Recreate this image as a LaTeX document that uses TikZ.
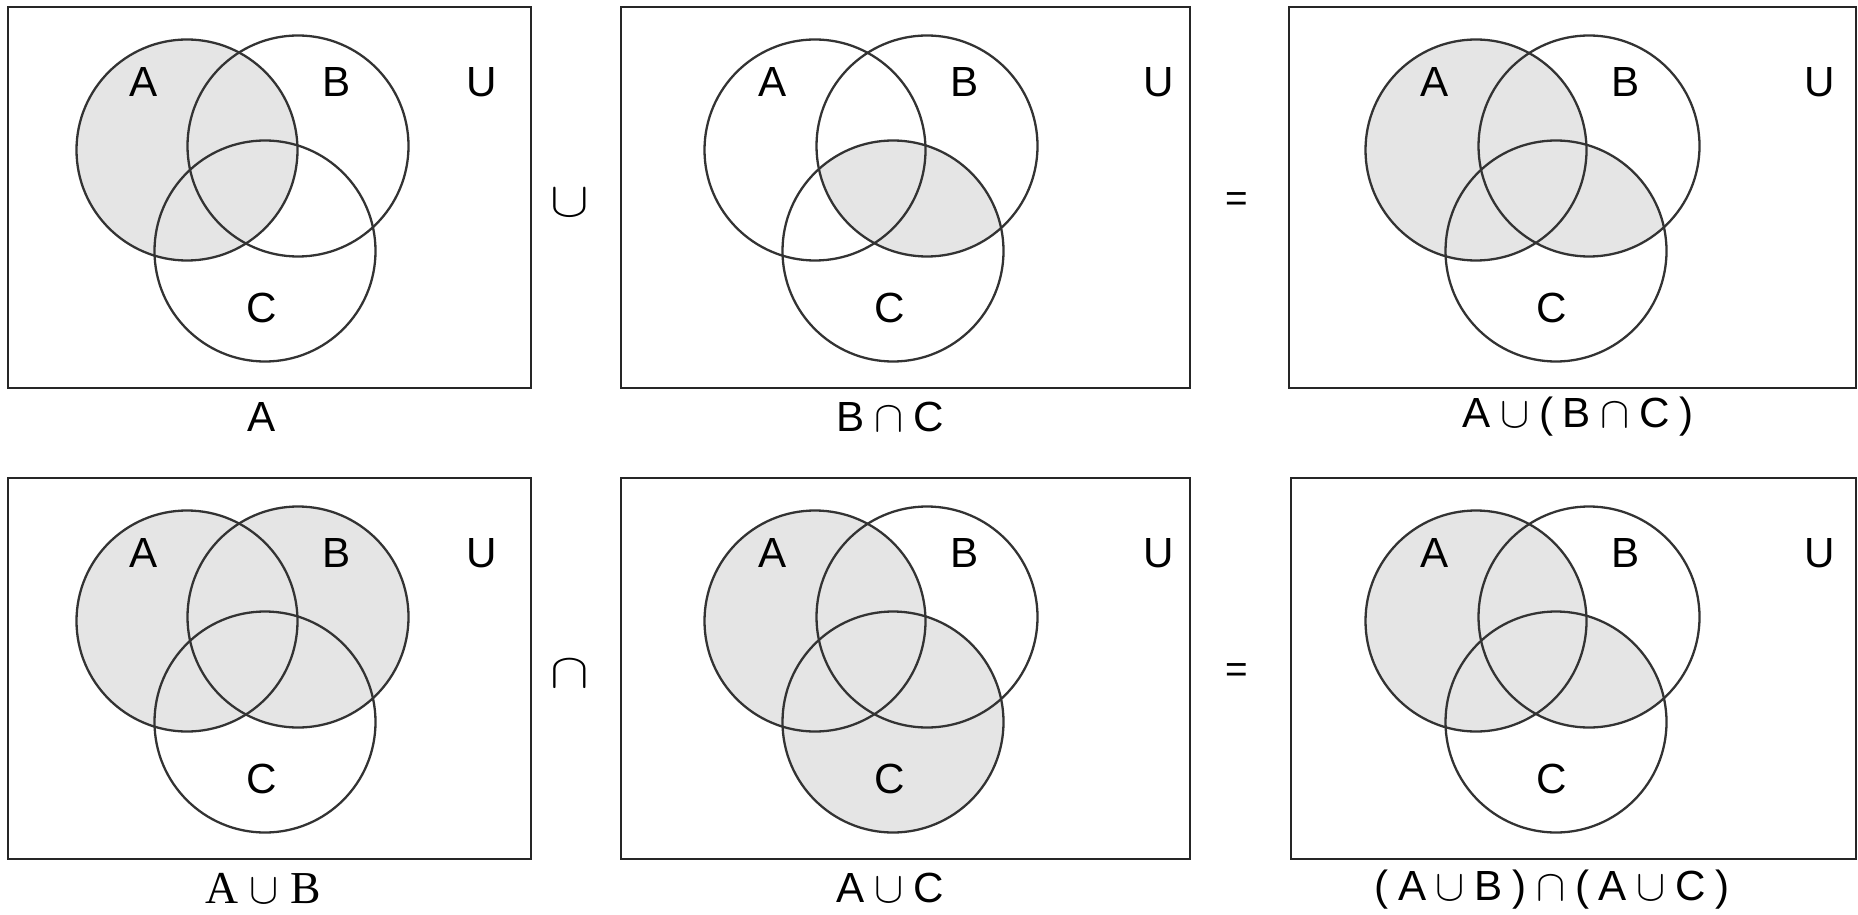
\documentclass[tikz,border=0pt]{standalone}
\usepackage{graphicx}
\usepackage{fontspec}
\setmainfont{Liberation Sans}
\newfontfamily\capserif{Liberation Serif}
\newcommand{\cgap}{\hspace{5.5pt}}
\begin{document}
\begin{tikzpicture}[x=0.02cm, y=-0.02cm, every node/.style={font=\fontsize{24}{28}\selectfont, inner sep=0pt}, box/.style={draw=black!85, line width=1.6pt}, set/.style={draw=black!80, line width=1.3pt}, grayset/.style={fill=black!10}]
        \useasboundingbox (0,0) rectangle (1858,915);
        \coordinate (a1) at (187,150);
        \coordinate (b1) at (298,146);
        \coordinate (c1) at (265,251);
        \coordinate (a2) at (815,150);
        \coordinate (b2) at (927,146);
        \coordinate (c2) at (893,251);
        \coordinate (a3) at (1476,150);
        \coordinate (b3) at (1589,146);
        \coordinate (c3) at (1556,251);
        \coordinate (a4) at (187,621);
        \coordinate (b4) at (298,617);
        \coordinate (c4) at (265,722);
        \coordinate (a5) at (815,621);
        \coordinate (b5) at (927,617);
        \coordinate (c5) at (893,722);
        \coordinate (a6) at (1476,621);
        \coordinate (b6) at (1589,617);
        \coordinate (c6) at (1556,722);
        \fill[grayset] (a1) circle (110.5);
        \begin{scope}
            \clip (b2) circle (110.5);
            \fill[grayset] (c2) circle (110.5);
        \end{scope}
        \fill[grayset] (a3) circle (110.5);
        \begin{scope}
            \clip (b3) circle (110.5);
            \fill[grayset] (c3) circle (110.5);
        \end{scope}
        \fill[grayset] (a4) circle (110.5);
        \fill[grayset] (b4) circle (110.5);
        \fill[grayset] (a5) circle (110.5);
        \fill[grayset] (c5) circle (110.5);
        \fill[grayset] (a6) circle (110.5);
        \begin{scope}
            \clip (b6) circle (110.5);
            \fill[grayset] (c6) circle (110.5);
        \end{scope}
        \foreach \i in {1,...,6} {
            \draw[set] (a\i) circle (110.5);
            \draw[set] (b\i) circle (110.5);
            \draw[set] (c\i) circle (110.5);
        }
        \draw[box] (8,7) rectangle (531,388);
        \draw[box] (621,7) rectangle (1190,388);
        \draw[box] (1289,7) rectangle (1856,388);
        \draw[box] (8,478) rectangle (531,859);
        \draw[box] (621,478) rectangle (1190,859);
        \draw[box] (1291,478) rectangle (1856,859);
        \node (la1) at (144,82) {A};
        \node (lb1) at (337,82) {B};
        \node (lu1) at (482,82) {U};
        \node (lc1) at (262,308) {C};
        \node (la2) at (773,82) {A};
        \node (lb2) at (965,82) {B};
        \node (lu2) at (1159,82) {U};
        \node (lc2) at (890,308) {C};
        \node (la3) at (1435,82) {A};
        \node (lb3) at (1626,82) {B};
        \node (lu3) at (1820,82) {U};
        \node (lc3) at (1552,308) {C};
        \node (la4) at (144,553) {A};
        \node (lb4) at (337,553) {B};
        \node (lu4) at (482,553) {U};
        \node (lc4) at (262,779) {C};
        \node (la5) at (773,553) {A};
        \node (lb5) at (965,553) {B};
        \node (lu5) at (1159,553) {U};
        \node (lc5) at (890,779) {C};
        \node (la6) at (1435,553) {A};
        \node (lb6) at (1626,553) {B};
        \node (lu6) at (1820,553) {U};
        \node (lc6) at (1552,779) {C};
        \node (cap1) at (262,417) {A};
        \node (cap2) at (890,417) {B\cgap$\cap$\cgap C};
        \node (cap3) at (1578,417) {A\cgap$\cup$\cgap(\cgap B\cgap$\cap$\cgap C\cgap)};
        \node[font=\capserif\fontsize{26}{30}\selectfont] (cap4) at (263,888) {A $\cup$ B};
        \node (cap5) at (890,888) {A\cgap$\cup$\cgap C};
        \node (cap6) at (1552,890) {(\cgap A\cgap$\cup$\cgap B\cgap)\cgap$\cap$\cgap(\cgap A\cgap$\cup$\cgap C\cgap)};
        \node (cup) at (570,203) {\resizebox{22pt}{15.5pt}{$\cup$}};
        \node (cap) at (570,674) {\resizebox{22pt}{15.5pt}{$\cap$}};
        \node[font=\fontsize{22}{26}\selectfont] (eq1) at (1237,202) {=};
        \node[font=\fontsize{22}{26}\selectfont] (eq2) at (1237,673) {=};
\end{tikzpicture}
\end{document}
